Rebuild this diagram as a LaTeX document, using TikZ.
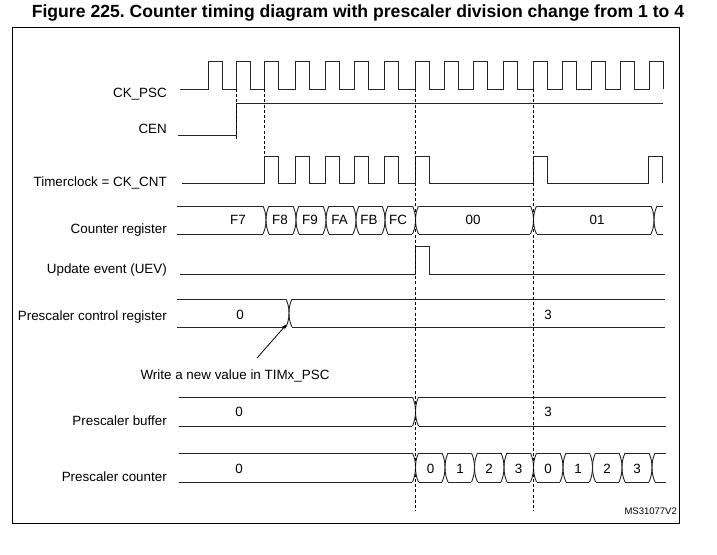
\documentclass[tikz,border=0pt]{standalone}
\usepackage{fontspec}
\setmainfont{Liberation Sans}
\usetikzlibrary{arrows.meta}
\frenchspacing
\tikzset{
  sig/.style={line width=0.9pt, black!85, line join=miter},
  dsh/.style={line width=0.8pt, black, dash pattern=on 3pt off 2.2pt},
  lbl/.style={anchor=east, inner sep=0pt, font=\fontsize{13.4}{15}\selectfont, text height=9.6pt, text depth=0pt},
  val/.style={inner sep=0pt, font=\fontsize{13.4}{15}\selectfont, text height=9.6pt, text depth=0pt},
  frame/.style={line width=0.9pt, black},
}
\newcommand\tbus[5]{%
  \draw[sig] (#1,#3) -- (#2,#3) (#1,#4) -- (#2,#4);
  \foreach \t in {#5} {
    \fill[white] ({\t-3.2},{#3-1}) rectangle ({\t+3.2},{#4+1});
    \draw[sig] ({\t-3},#3) .. controls ({\t-0.8},{#3+5}) and (\t,{(#3+#4)/2-5}) .. (\t,{(#3+#4)/2})
               .. controls (\t,{(#3+#4)/2+5}) and ({\t-0.8},{#4-5}) .. ({\t-3},#4);
    \draw[sig] ({\t+3},#3) .. controls ({\t+0.8},{#3+5}) and (\t,{(#3+#4)/2-5}) .. (\t,{(#3+#4)/2})
               .. controls (\t,{(#3+#4)/2+5}) and ({\t+0.8},{#4-5}) .. ({\t+3},#4);
  }%
}
\begin{document}
\begin{tikzpicture}[x=1pt,y=-1pt]
\useasboundingbox[fill=white] (0,0) rectangle (717,554);
% title
\node[inner sep=0pt, font=\bfseries\fontsize{17.6}{20}\selectfont] (title) at (358,13) {Figure 225. Counter timing diagram with prescaler division change from 1 to 4};
% frame
\draw[frame] (12,27) rectangle (679,523);

% labels
\node[lbl] (lck) at (167,93) {CK\_PSC};
\node[lbl] (lcen) at (167,128.5) {CEN};
\node[lbl] (ltc) at (167,181.5) {Timerclock = CK\_CNT};
\node[lbl] (lcr) at (167,229) {Counter register};
\node[lbl] (luev) at (167,269) {Update event (UEV)};
\node[lbl] (lpcr) at (167,316) {Prescaler control register};
\node[lbl] (lpb) at (167,420.5) {Prescaler buffer};
\node[lbl] (lpc) at (167,477) {Prescaler counter};

% CK_PSC
\draw[sig] (180,89) foreach \r in {208,236,264,295,325,354,384,415,444,473,503,533,562,591,620,649}
  { -- (\r,89) -- (\r,61) -- ({\r+14.2},61) -- ({\r+14.2},89) };
% CEN
\draw[sig] (178,135) -- (236,135) -- (236,103) -- (663,103);
% Timerclock
\draw[sig] (182,183) foreach \r in {264,295,325,354,384,415,533,648}
  { -- (\r,183) -- (\r,156) -- ({\r+14.2},156) -- ({\r+14.2},183) };
% Update event
\draw[sig] (180,274) -- (415,274) -- (415,246) -- (429,246) -- (429,274) -- (665,274);

% buses
\tbus{177}{663}{206}{234}{266,296,326,356,385,415.5,533.5,654}
\tbus{177}{665}{299}{327}{289}
\tbus{179}{666}{397}{426}{415.5}
\tbus{179}{666}{453}{482}{415.5,445,474.5,504,533.5,563,592.5,622,652}

% counter register values
\node[val] (v1) at (238,220) {F7};
\node[val] (v2) at (280,220) {F8};
\node[val] (v3) at (310,220) {F9};
\node[val] (v4) at (339.5,220) {FA};
\node[val] (v5) at (369,220) {FB};
\node[val] (v6) at (398,220) {FC};
\node[val] (v7) at (473,220) {00};
\node[val] (v8) at (597,220) {01};
% prescaler control values
\node[val] (p1) at (240,315) {0};
\node[val] (p2) at (548,315) {3};
% prescaler buffer values
\node[val] (b1) at (239,412) {0};
\node[val] (b2) at (548,412) {3};
% prescaler counter values
\node[val] (c0) at (239,468.5) {0};
\node[val] (c1) at (430.5,468.5) {0};
\node[val] (c2) at (460,468.5) {1};
\node[val] (c3) at (489,468.5) {2};
\node[val] (c4) at (518.5,468.5) {3};
\node[val] (c5) at (548,468.5) {0};
\node[val] (c6) at (578,468.5) {1};
\node[val] (c7) at (607,468.5) {2};
\node[val] (c8) at (637,468.5) {3};

% dashed markers
\draw[dsh] (236,89) -- (236,141);
\draw[dsh] (264,89) -- (264,156);
\draw[dsh] (415,89) -- (415,511);
\draw[dsh] (533,89) -- (533,511);

% annotation
\node[val] (wr) at (235,375) {Write a new value in TIMx\_PSC};
\coordinate (atail) at (257,358);
\coordinate (ahead) at (286.5,324.5);
\draw[line width=0.8pt, -{Stealth[length=5pt,width=4pt]}] (atail) -- (ahead);

\node[anchor=east, inner sep=0pt, font=\fontsize{9.5}{11}\selectfont, text height=6.8pt, text depth=0pt] (ms) at (677,511.5) {MS31077V2};
\end{tikzpicture}
\end{document}
